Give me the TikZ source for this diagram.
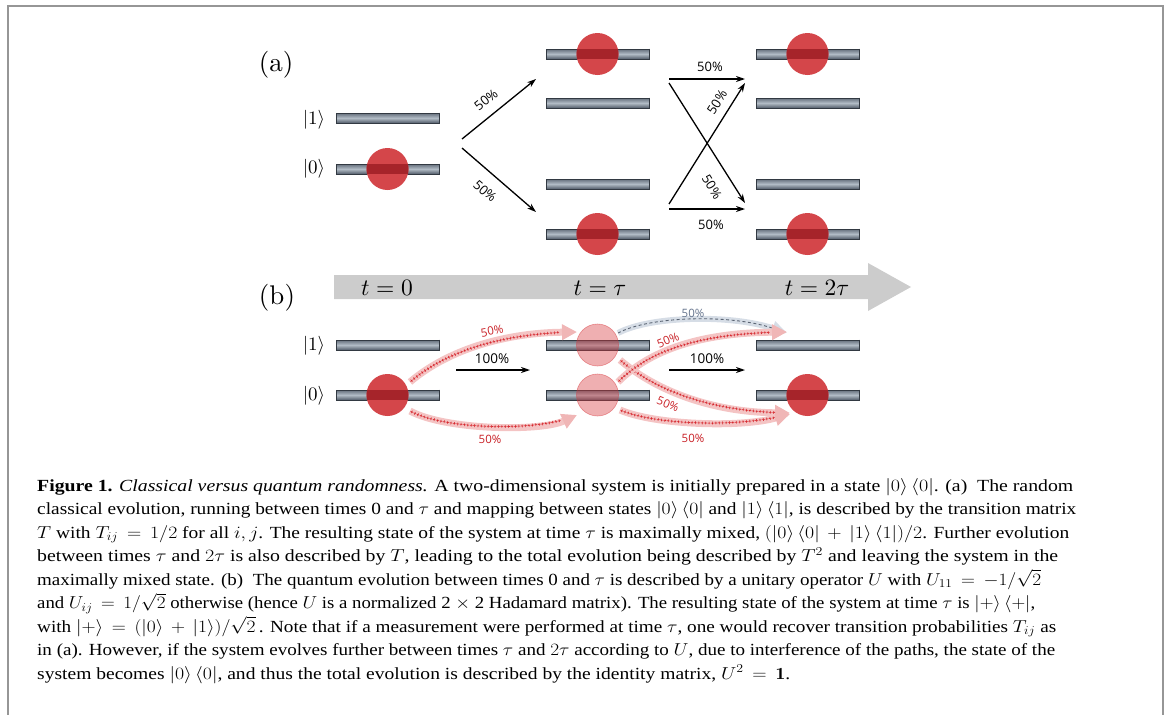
\documentclass[tikz,border=0pt]{standalone}
\usepackage{graphicx}
\usepackage{fontspec}
\usetikzlibrary{arrows.meta,decorations.markings}
\newfontfamily\capfont{Liberation Serif}
\newfontfamily\lblfont{Open Sans}
\definecolor{framegray}{RGB}{150,150,150}
\definecolor{bardark}{RGB}{50,57,66}
\definecolor{bartop}{RGB}{100,110,123}
\definecolor{barhi}{RGB}{178,188,198}
\definecolor{barbot}{RGB}{82,92,105}
\definecolor{ballred}{RGB}{212,70,74}
\definecolor{ballin}{RGB}{166,36,42}
\definecolor{lightred}{RGB}{215,55,60}
\definecolor{bandpink}{RGB}{244,196,196}
\definecolor{headpink}{RGB}{240,182,182}
\definecolor{plusred}{RGB}{214,40,46}
\definecolor{pctred}{RGB}{200,30,36}
\definecolor{bandblue}{RGB}{214,221,230}
\definecolor{dashgray}{RGB}{90,100,115}
\definecolor{pctblue}{RGB}{100,115,140}
\definecolor{timegray}{RGB}{204,204,204}
\newcommand\bigmath[2]{\scalebox{#1}{$#2$}}
\newcommand\capl[2]{\hbox{\resizebox{#1pt}{\height}{#2}}}
\begin{document}
\begin{tikzpicture}[x=1pt,y=-1pt,
  lvl/.style={rectangle, minimum width=103pt, minimum height=10pt, inner sep=0pt,
    draw=bardark, line width=0.7pt, top color=bartop, bottom color=barbot, middle color=barhi},
  solidball/.style={circle, minimum size=42pt, inner sep=0pt, fill=ballred},
  lightball/.style={circle, minimum size=42pt, inner sep=0pt, fill=lightred, fill opacity=0.4,
    draw=lightred, draw opacity=0.5, line width=0.6pt},
  karrow/.style={line width=1.3pt, -{Stealth[length=9pt,width=6pt]}},
  pct/.style={font=\lblfont\fontsize{13}{13}\selectfont, inner sep=0pt},
  rpct/.style={font=\lblfont\fontsize{11.5}{11.5}\selectfont, text=pctred, inner sep=0pt},
  bpct/.style={font=\lblfont\fontsize{11.5}{11.5}\selectfont, text=pctblue, inner sep=0pt},
  redband/.style={line width=7pt, draw=bandpink, -{Triangle[length=15pt,width=15pt,color=headpink]}},
  blueband/.style={line width=6pt, draw=bandblue, -{Triangle[length=15pt,width=14pt]}},
  redplus/.style={decoration={markings, mark=between positions 2pt and -16pt step 3.4pt with
    {\draw[plusred,line width=0.55pt] (-1.4pt,0pt)--(1.4pt,0pt) (0pt,-1.4pt)--(0pt,1.4pt);}}, decorate},
  bluedash/.style={draw=dashgray, line width=0.9pt, dash pattern=on 3pt off 2.5pt, shorten >=16pt},
  mathlbl/.style={font=\fontsize{10}{12}\selectfont, inner sep=0pt},
  captext/.style={anchor=base west, inner sep=0pt, font=\capfont\fontsize{17}{20}\selectfont}
]
\useasboundingbox (0,0) rectangle (1171,715);
% frame
\draw[framegray, line width=2pt] (8,716) -- (8,6) -- (1163,6) -- (1163,716);

% ---------------- panel (a)
\node[mathlbl] (pa) at (276,65) {\bigmath{2.7}{(\mathrm{a})}};
\node[mathlbl] (ka1) at (314,120) {\bigmath{1.9}{|1\rangle}};
\node[mathlbl] (ka0) at (314,169) {\bigmath{1.9}{|0\rangle}};
\node[lvl] (aL1) at (387.5,118) {};
\node[lvl] (aL0) at (387.5,169) {};
\node[lvl] (aM3) at (597.5,54) {};
\node[lvl] (aM2) at (597.5,103) {};
\node[lvl] (aM1) at (597.5,184) {};
\node[lvl] (aM0) at (597.5,234) {};
\node[lvl] (aR3) at (807.5,54) {};
\node[lvl] (aR2) at (807.5,103) {};
\node[lvl] (aR1) at (807.5,184) {};
\node[lvl] (aR0) at (807.5,234) {};
\foreach \b in {aL1,aL0,aM3,aM2,aM1,aM0,aR3,aR2,aR1,aR0}{
  \draw[bardark, line width=1.6pt] (\b.north east) -- (\b.south east);
}
\foreach \b/\n in {aL0/ba0, aM3/ba1, aM0/ba2, aR3/ba3, aR0/ba4}{
  \node[solidball] (\n) at (\b.center) {};
  \begin{scope}
    \clip (\n.center) circle (21pt);
    \fill[ballin] (\b.south west) rectangle (\b.north east);
  \end{scope}
}
% arrows (a)
\coordinate (a1s) at (462,139); \coordinate (a1e) at (536,79);
\coordinate (a2s) at (462,148); \coordinate (a2e) at (536,212);
\draw[karrow] (a1s) -- (a1e);
\draw[karrow] (a2s) -- (a2e);
\node[pct, rotate=39] (la1) at (486,100) {50\%};
\node[pct, rotate=-41] (la2) at (485,191) {50\%};
\coordinate (c1s) at (669,79);  \coordinate (c1e) at (745,79);
\coordinate (c2s) at (669,209); \coordinate (c2e) at (745,209);
\coordinate (c3s) at (669,83);  \coordinate (c3e) at (745,203);
\coordinate (c4s) at (669,204); \coordinate (c4e) at (745,83);
\draw[karrow] (c1s) -- (c1e);
\draw[karrow] (c2s) -- (c2e);
\draw[karrow] (c3s) -- (c3e);
\draw[karrow] (c4s) -- (c4e);
\node[pct] (lc1) at (710,67) {50\%};
\node[pct] (lc2) at (711,225) {50\%};
\node[pct, rotate=-58] (lc3) at (712,187) {50\%};
\node[pct, rotate=58] (lc4) at (717,102) {50\%};

% ---------------- panel (b)
\fill[timegray] (334,275) -- (868,275) -- (868,263) -- (911,287) -- (868,311) -- (868,299) -- (334,299) -- cycle;
\node[mathlbl] (pb) at (277,298) {\bigmath{2.7}{(\mathrm{b})}};
\node[mathlbl] (t0) at (387,288) {\bigmath{2.35}{t=0}};
\node[mathlbl] (t1) at (600,288) {\bigmath{2.35}{t=\tau}};
\node[mathlbl] (t2) at (817,288) {\bigmath{2.35}{t=2\tau}};
\node[mathlbl] (kb1) at (314,346) {\bigmath{1.9}{|1\rangle}};
\node[mathlbl] (kb0) at (314,396) {\bigmath{1.9}{|0\rangle}};
\node[lvl] (bL1) at (387.5,345) {};
\node[lvl] (bL0) at (387.5,395) {};
\node[lvl] (bM1) at (597.5,345) {};
\node[lvl] (bM0) at (597.5,395) {};
\node[lvl] (bR1) at (807.5,345) {};
\node[lvl] (bR0) at (807.5,395) {};
\foreach \b in {bL1,bL0,bM1,bM0,bR1,bR0}{
  \draw[bardark, line width=1.6pt] (\b.north east) -- (\b.south east);
}
% black arrows
\coordinate (h1s) at (456,370); \coordinate (h1e) at (530,370);
\coordinate (h2s) at (669,370); \coordinate (h2e) at (745,370);
\draw[karrow] (h1s) -- (h1e);
\draw[karrow] (h2s) -- (h2e);
\node[pct, font=\lblfont\fontsize{13.5}{13.5}\selectfont] (lh1) at (492,359) {100\%};
\node[pct, font=\lblfont\fontsize{13.5}{13.5}\selectfont] (lh2) at (707,359) {100\%};

% bands
\coordinate (r1s) at (410,382); \coordinate (r1e) at (577,332);
\coordinate (r2s) at (410,411); \coordinate (r2e) at (577,415);
\coordinate (r3s) at (620,360); \coordinate (r3e) at (790,413);
\coordinate (r4s) at (620,410); \coordinate (r4e) at (790,414);
\coordinate (r5s) at (618,382); \coordinate (r5e) at (787,332);
\coordinate (bbs) at (618,333); \coordinate (bbe) at (787,333);

\draw[blueband] (bbs) .. controls (650,316) and (730,314) .. (bbe);
\draw[bluedash] (bbs) .. controls (650,316) and (730,314) .. (bbe);

\draw[redband] (r1s) .. controls (445,352) and (500,333) .. (r1e);
\path[redplus] (r1s) .. controls (445,352) and (500,333) .. (r1e);
\draw[redband] (r2s) .. controls (445,430) and (540,432) .. (r2e);
\path[redplus] (r2s) .. controls (445,430) and (540,432) .. (r2e);
\draw[redband] (r4s) .. controls (655,425) and (740,428) .. (r4e);
\path[redplus] (r4s) .. controls (655,425) and (740,428) .. (r4e);
\draw[redband] (r3s) .. controls (655,390) and (710,412) .. (r3e);
\path[redplus] (r3s) .. controls (655,390) and (710,412) .. (r3e);
\draw[redband] (r5s) .. controls (650,350) and (700,333) .. (r5e);
\path[redplus] (r5s) .. controls (650,350) and (700,333) .. (r5e);

\node[rpct, rotate=10] (lr1) at (492,331) {50\%};
\node[rpct] (lr2) at (490,439) {50\%};
\node[rpct, rotate=-22] (lr3) at (668,404) {50\%};
\node[rpct] (lr4) at (693,438) {50\%};
\node[rpct, rotate=22] (lr5) at (668,340) {50\%};
\node[bpct] (lbb) at (693,313) {50\%};

% balls (b)
\foreach \b/\n in {bL0/bb0, bR0/bb3}{
  \node[solidball] (\n) at (\b.center) {};
  \begin{scope}
    \clip (\n.center) circle (21pt);
    \fill[ballin] (\b.south west) rectangle (\b.north east);
  \end{scope}
}
\node[lightball] (bb1) at (bM1.center) {};
\node[lightball] (bb2) at (bM0.center) {};

% ---------------- caption
\node[captext] (cap) at (37,491) {\vtop{\baselineskip=23.5pt\lineskiplimit=-40pt\lineskip=0pt
\capl{1036}{\textbf{Figure 1.} \textit{Classical versus quantum randomness.} A two-dimensional system is initially prepared in a state $|0\rangle\,\langle 0|$. (a)\ \ The random}
\capl{1039}{classical evolution, running between times 0 and $\tau$ and mapping between states $|0\rangle\,\langle 0|$ and $|1\rangle\,\langle 1|$, is described by the transition matrix}
\capl{1032}{$T$ with $T_{ij}\,=\,1/2$ for all $i, j$. The resulting state of the system at time $\tau$ is maximally mixed, $(|0\rangle\,\langle 0|\,+\,|1\rangle\,\langle 1|)/2$. Further evolution}
\capl{1021}{between times $\tau$ and $2\tau$ is also described by $T$, leading to the total evolution being described by $T^2$ and leaving the system in the}
\capl{1004}{maximally mixed state. (b)\ \ The quantum evolution between times 0 and $\tau$ is described by a unitary operator $U$ with $U_{11}\,=\,-1/\sqrt{2}$}
\capl{998}{and $U_{ij}\,=\,1/\sqrt{2}$ otherwise (hence $U$ is a normalized 2 $\times$ 2 Hadamard matrix). The resulting state of the system at time $\tau$ is $|{+}\rangle\,\langle{+}|$,}
\capl{1019}{with $|{+}\rangle\,=\,(|0\rangle\,+\,|1\rangle)/\sqrt{2}$\,. Note that if a measurement were performed at time $\tau$, one would recover transition probabilities $T_{ij}$ as}
\capl{1018}{in (a). However, if the system evolves further between times $\tau$ and $2\tau$ according to $U$, due to interference of the paths, the state of the}
\capl{753}{system becomes $|0\rangle\,\langle 0|$, and thus the total evolution is described by the identity matrix, $U^2\,=\,\mathbf{1}$.}
}};
\end{tikzpicture}
\end{document}
